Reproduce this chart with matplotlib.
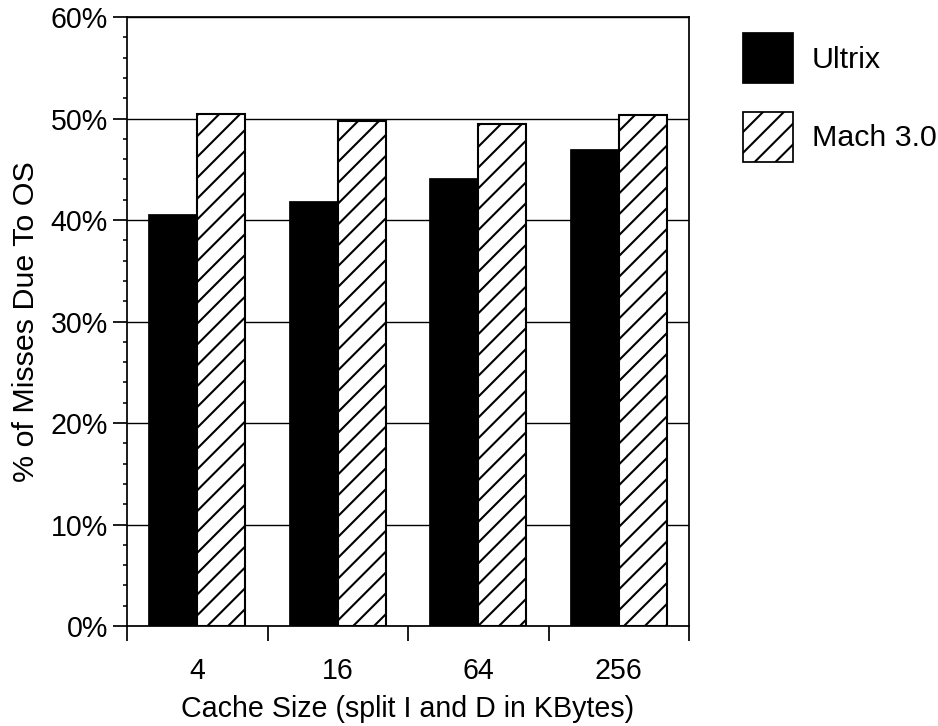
import matplotlib
matplotlib.use("Agg")
import matplotlib.pyplot as plt
import numpy as np
from matplotlib.patches import Patch

plt.rcParams['font.family'] = ['Liberation Sans', 'DejaVu Sans']
plt.rcParams['hatch.linewidth'] = 1.2

categories = ["4", "16", "64", "256"]
series_names = ["Ultrix", "Mach 3.0"]
ultrix = [40.5, 41.8, 44.0, 46.9]
mach = [50.4, 49.8, 49.5, 50.3]
ytick_vals = [0, 10, 20, 30, 40, 50, 60]
ytick_labels = ["0%", "10%", "20%", "30%", "40%", "50%", "60%"]
xlabel = "Cache Size (split I and D in KBytes)"
ylabel = "% of Misses Due To OS"

DPI = 125
fig = plt.figure(figsize=(938 / DPI, 726 / DPI), dpi=DPI)
ax = fig.add_axes([127 / 938, 1 - 626 / 726, 562 / 938, 609 / 726])

x = np.arange(len(categories))
w = 0.34

ax.bar(x - w / 2, ultrix, width=w, color='black', edgecolor='black',
       linewidth=1.0, zorder=3, label=series_names[0])
ax.bar(x + w / 2, mach, width=w, color='white', edgecolor='black',
       hatch='//', linewidth=1.2, zorder=3, label=series_names[1])

ax.set_xlim(-0.5, 3.5)
ax.set_ylim(0, 60)

# y axis
ax.set_yticks(ytick_vals)
ax.set_yticklabels(ytick_labels, fontsize=16.5)
ax.set_yticks(np.arange(0, 61, 2), minor=True)
ax.tick_params(axis='y', which='major', direction='out', length=8, width=1.0, pad=3)
ax.tick_params(axis='y', which='minor', direction='out', length=2.2, width=0.9)
ax.yaxis.grid(True, which='major', color='black', linewidth=0.8, zorder=0)
ax.set_axisbelow(True)

# x axis: boundary ticks (major) and labels at group centres (minor)
ax.set_xticks(np.arange(-0.5, 3.6, 1.0))
ax.set_xticklabels([])
ax.set_xticks(x, minor=True)
ax.set_xticklabels(categories, minor=True, fontsize=16.5)
ax.tick_params(axis='x', which='major', direction='out', length=8.6, width=1.0)
ax.tick_params(axis='x', which='minor', length=0, pad=18)

for s in ax.spines.values():
    s.set_linewidth(1.0)
    s.set_color('black')

ax.set_xlabel(xlabel, fontsize=16.5)
ax.xaxis.set_label_coords(0.5, (626 - 717) / 609)
ax.xaxis.label.set_va('baseline')
ax.set_ylabel(ylabel, fontsize=17.5, labelpad=6)

fs_leg = 17.5
handles = [Patch(facecolor='black', edgecolor='black', label=series_names[0]),
           Patch(facecolor='white', edgecolor='black', hatch='//', label=series_names[1])]
ax.legend(handles=handles, loc='upper left', bbox_to_anchor=(743 / 938, 1 - 33 / 726),
          bbox_transform=fig.transFigure, frameon=False, fontsize=fs_leg,
          borderpad=0, borderaxespad=0, handlelength=28.8 / fs_leg,
          handleheight=((28.8 / fs_leg) - 0.245) / 0.65,
          handletextpad=0.62, labelspacing=0.95)

fig.savefig("out.png", dpi=DPI)
